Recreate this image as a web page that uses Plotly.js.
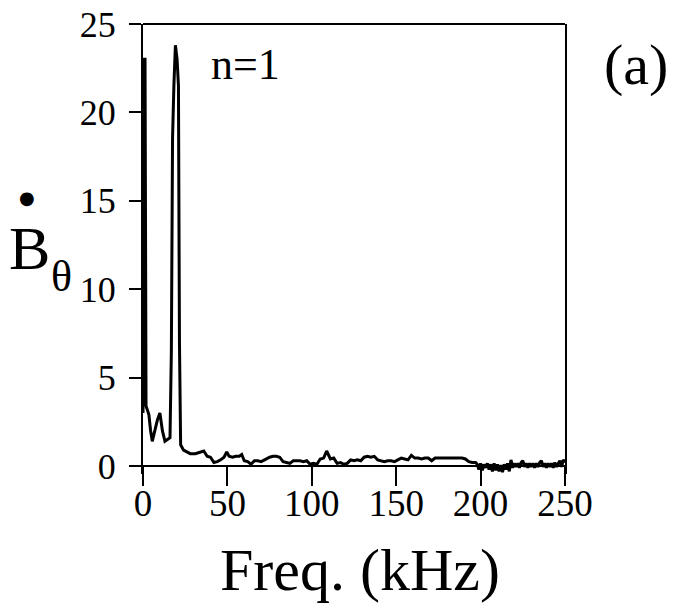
<!DOCTYPE html>
<html>
<head>
<meta charset="utf-8">
<script src="https://cdn.plot.ly/plotly-3.0.1.min.js"></script>
<style>html,body{margin:0;padding:0;background:#fff;}#chart{width:679px;height:613px;}</style>
</head>
<body>
<div id="chart"></div>
<script>
// Frequency (kHz) and amplitude values
const freq = [0, 0.5, 1.2, 1.8, 2.5, 3.5, 4.5, 5.5, 7, 8.5, 10, 11.5, 13, 14.5, 16, 16.8, 17.5, 18.3, 19.2, 20.2, 21, 21.6, 22.3,
  24, 26, 28, 31, 34, 36, 38, 40, 42, 44, 46, 48, 49.6, 51, 53, 55, 57, 58.5, 60, 62, 64, 66, 68, 70, 72, 75, 77, 79, 81, 83, 85, 87, 89,
  91, 93, 95, 97, 99, 101, 103, 105, 107, 108.8, 111, 113, 115, 117, 119, 121, 123, 125, 127, 129, 131, 133, 135, 137, 139, 141, 143, 145,
  147, 149, 151, 153, 155, 157, 159, 161, 163, 165, 167, 169, 171, 173, 175, 177, 179, 181, 183, 185, 187, 189, 191, 193, 195, 197,
  198, 199, 200, 201, 202, 203, 204, 205, 206, 207, 208, 209, 210, 211, 212, 213, 214, 215, 216, 217, 218, 219, 220, 221, 222, 223, 224,
  225, 226, 227, 228, 229, 230, 231, 232, 233, 234, 235, 236, 237, 238, 239, 240, 241, 242, 243, 244, 245, 246, 247, 248, 249, 250];
const bdot = [3.0, 23.0, 23.0, 3.4, 3.2, 2.9, 2.0, 1.4, 2.0, 2.6, 3.0, 2.0, 1.4, 1.5, 1.6, 6.5, 18.5, 21.5, 23.8, 23.0, 21.5, 7.0, 1.2,
  0.9, 0.8, 0.7, 0.7, 0.8, 0.85, 0.55, 0.5, 0.2, 0.25, 0.35, 0.5, 0.8, 0.55, 0.5, 0.55, 0.55, 0.65, 0.3, 0.25, 0.1, 0.3, 0.3, 0.25, 0.35, 0.5, 0.55, 0.55, 0.5, 0.25, 0.2, 0.15, 0.3,
  0.3, 0.3, 0.25, 0.3, 0.1, 0.15, 0.1, 0.4, 0.45, 0.85, 0.4, 0.45, 0.15, 0.2, 0.1, 0.15, 0.35, 0.3, 0.35, 0.3, 0.5, 0.55, 0.5, 0.55, 0.35, 0.3, 0.25, 0.3,
  0.3, 0.25, 0.35, 0.45, 0.4, 0.35, 0.6, 0.45, 0.45, 0.4, 0.45, 0.45, 0.3, 0.45, 0.45, 0.45, 0.45, 0.45, 0.45, 0.45, 0.45, 0.45, 0.4, 0.25, 0.2, 0.2,
  0.1, -0.2, 0.15, -0.25, 0.1, -0.1, 0.15, -0.2, 0.1, -0.3, 0.15, -0.25, 0.1, -0.3, 0.05, -0.35, 0.1, -0.2, 0.15, -0.3, 0.35, -0.1, 0.15, -0.05, 0.15, -0.1, 0.2,
  0.3, -0.05, 0.15, -0.1, 0.15, -0.05, 0.15, -0.1, 0.15, -0.05, 0.2, 0.3, -0.05, 0.15, -0.1, 0.15, -0.05, 0.15, -0.1, 0.2, -0.05, 0.15, 0.3, -0.05, 0.35, 0.2];
const xTicks = [0, 50, 100, 150, 200, 250];
const yTicks = [0, 5, 10, 15, 20, 25];

const serif = 'Liberation Serif, Times New Roman, serif';
const yMin = -0.45, yMax = 25;

const trace = {
  x: freq, y: bdot, type: 'scatter', mode: 'lines',
  line: {color: '#000', width: 3}, hoverinfo: 'skip', showlegend: false
};

const layout = {
  width: 679, height: 613,
  margin: {l: 143, r: 114, t: 24, b: 139, pad: 0},
  paper_bgcolor: '#fff', plot_bgcolor: '#fff',
  font: {family: serif, color: '#000'},
  xaxis: {
    range: [0, 250], tickvals: xTicks, ticktext: xTicks.map(String),
    ticks: 'outside', ticklen: 19, tickwidth: 2, tickcolor: '#000',
    showline: true, linecolor: '#000', linewidth: 2,
    anchor: 'free', position: (0 - yMin) / (yMax - yMin),
    showgrid: false, zeroline: false,
    tickfont: {family: serif, size: 37, color: '#000'},
    ticklabelstandoff: -14
  },
  yaxis: {
    range: [yMin, yMax], tickvals: yTicks, ticktext: yTicks.map(String),
    ticks: 'outside', ticklen: 12, tickwidth: 2, tickcolor: '#000',
    showline: true, mirror: true, linecolor: '#000', linewidth: 2,
    showgrid: false, zeroline: false,
    tickfont: {family: serif, size: 36, color: '#000'},
    ticklabelstandoff: 6
  },
  shapes: [
    {type: 'line', xref: 'paper', yref: 'paper', x0: 0, x1: 1, y0: 1, y1: 1, line: {color: '#000', width: 2}}
  ],
  annotations: [
    {text: 'Freq. (kHz)', xref: 'paper', yref: 'paper', x: 0.514, y: -0.213, showarrow: false,
     xanchor: 'center', yanchor: 'middle', font: {family: serif, size: 60, color: '#000'}},
    {text: 'B', xref: 'paper', yref: 'paper', x: -0.268, y: 0.502, showarrow: false,
     xanchor: 'center', yanchor: 'middle', font: {family: serif, size: 62, color: '#000'}},
    {text: '\u03B8', xref: 'paper', yref: 'paper', x: -0.194, y: 0.44, showarrow: false,
     xanchor: 'center', yanchor: 'middle', font: {family: serif, size: 44, color: '#000'}},
    {text: '\u25CF', xref: 'paper', yref: 'paper', x: -0.275, y: 0.615, showarrow: false,
     xanchor: 'center', yanchor: 'middle', font: {family: 'DejaVu Sans', size: 18, color: '#000'}},
    {text: 'n=1', xref: 'paper', yref: 'paper', x: 0.244, y: 0.911, showarrow: false,
     xanchor: 'center', yanchor: 'middle', font: {family: serif, size: 44, color: '#000'}},
    {text: '(a)', xref: 'paper', yref: 'paper', x: 1.168, y: 0.911, showarrow: false,
     xanchor: 'center', yanchor: 'middle', font: {family: serif, size: 58, color: '#000'}}
  ]
};

Plotly.newPlot('chart', [trace], layout, {staticPlot: true, displayModeBar: false});
</script>
</body>
</html>
